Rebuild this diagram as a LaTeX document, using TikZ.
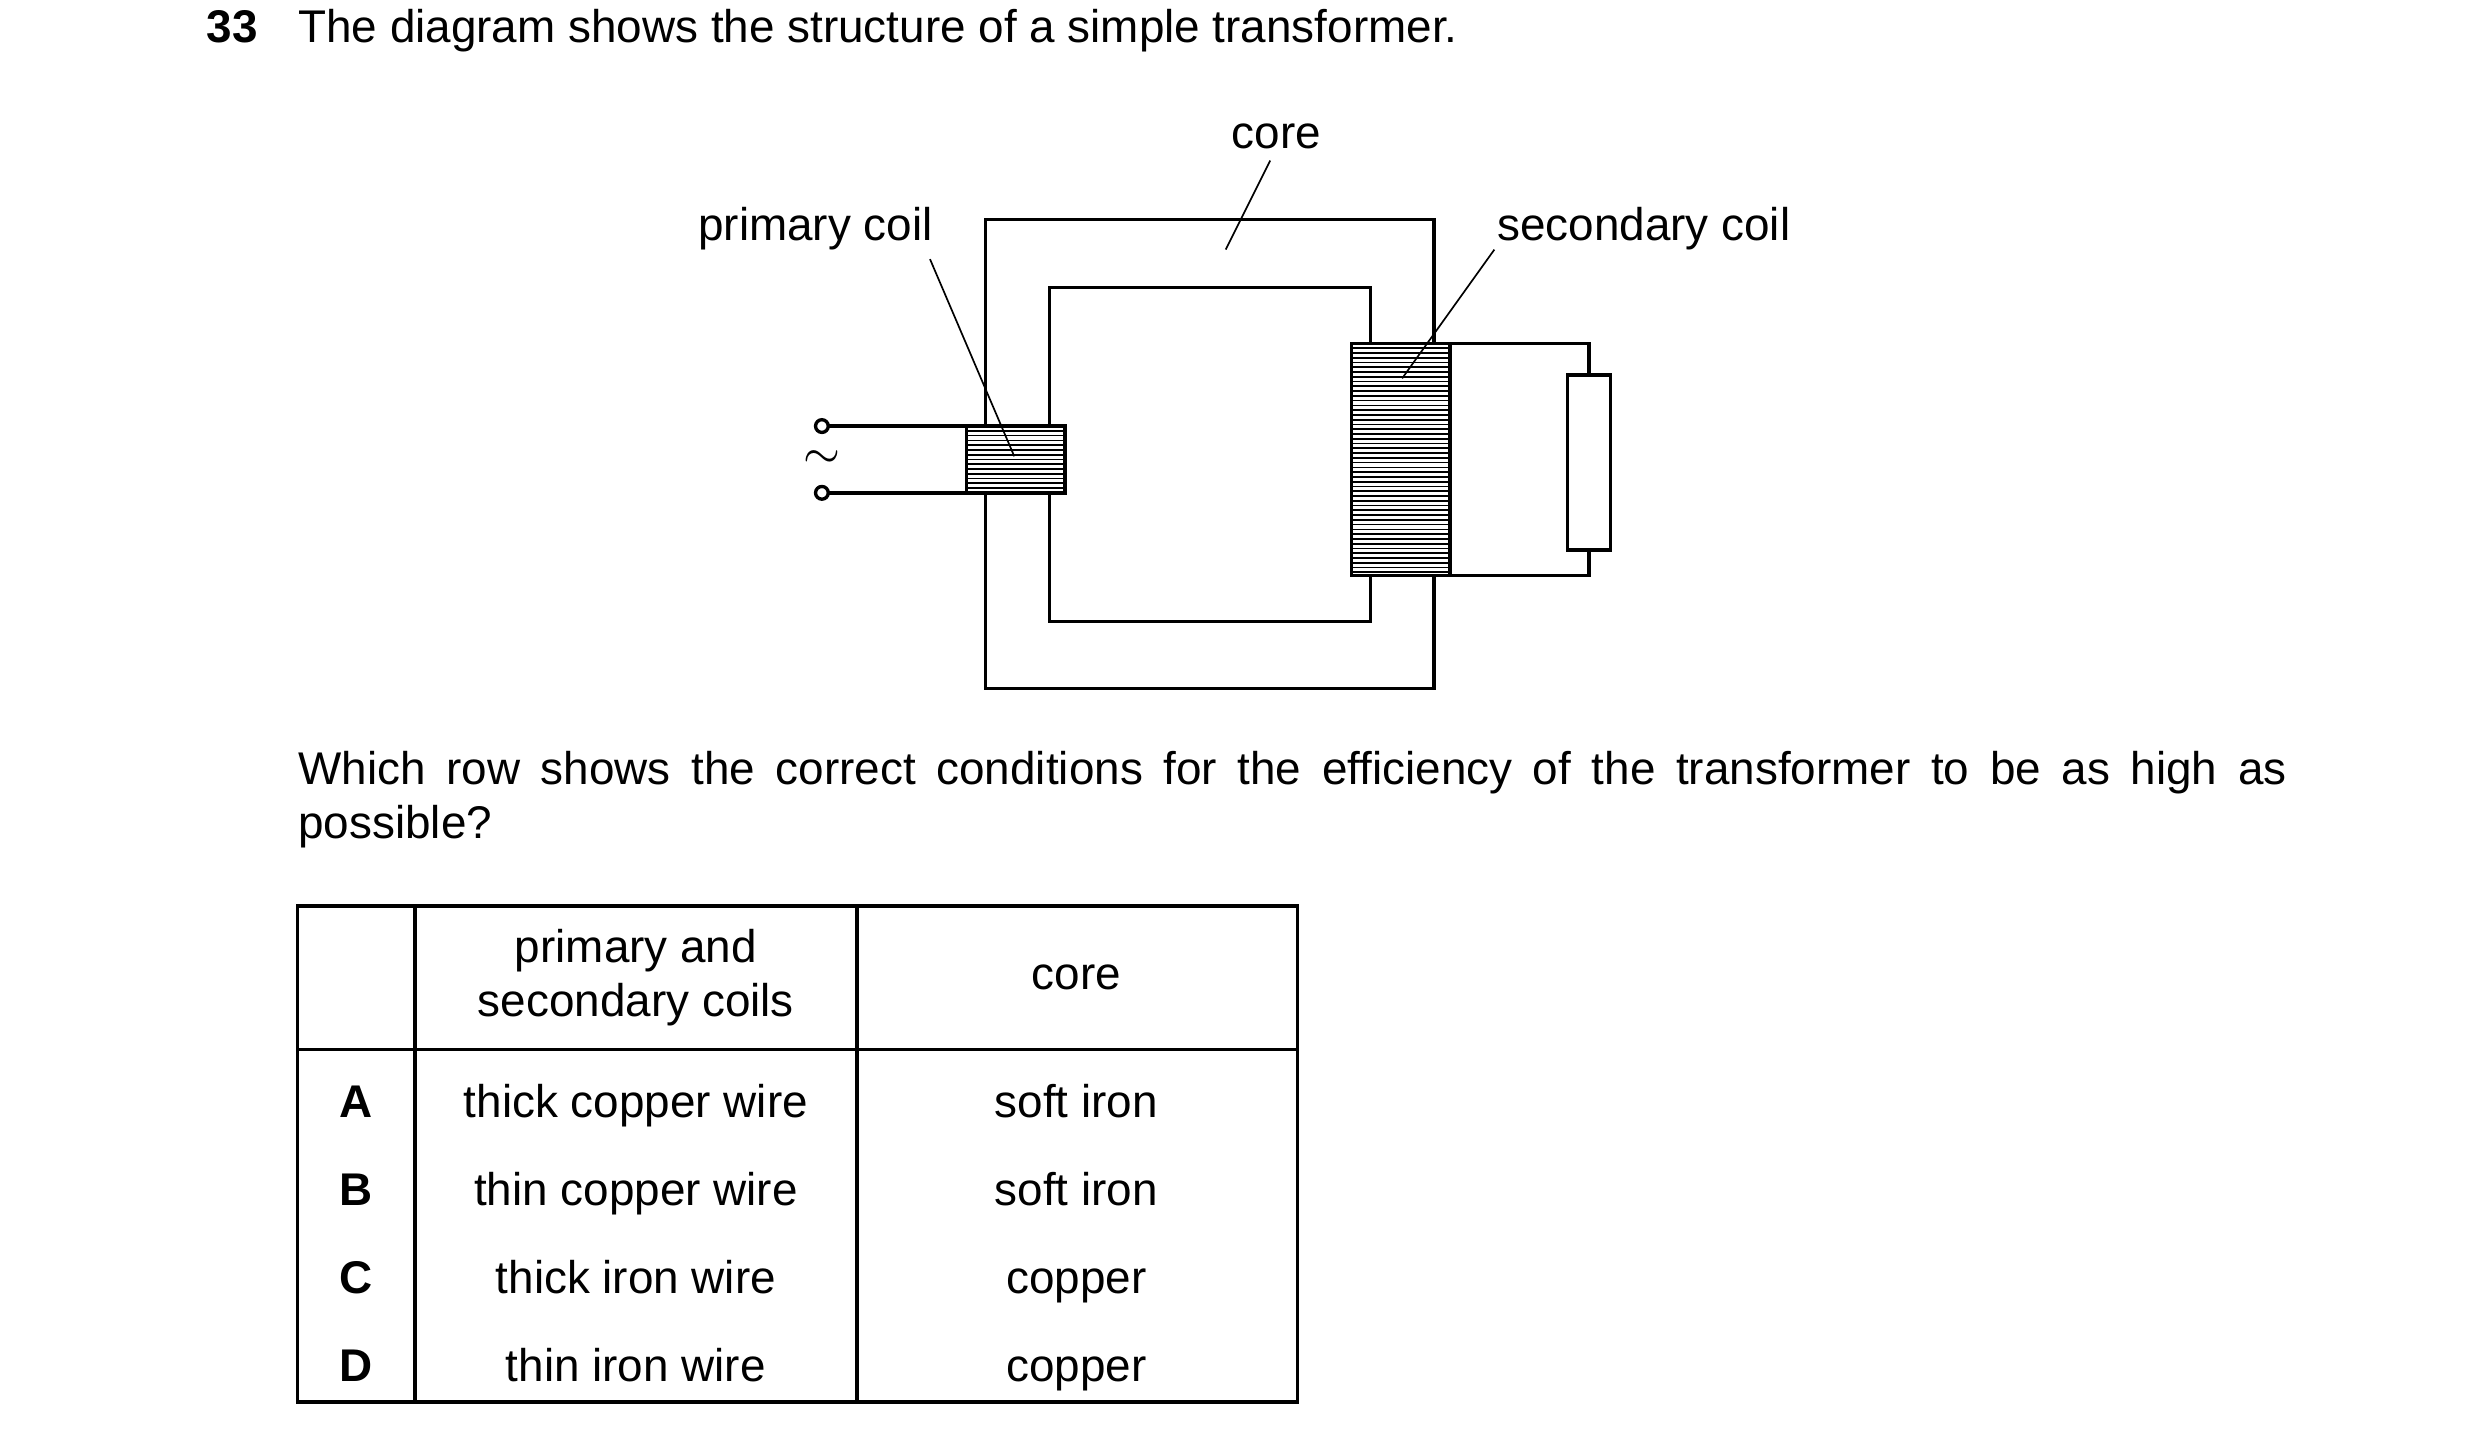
\documentclass[tikz,border=0pt]{standalone}
\usepackage{fontspec}
\setmainfont{Liberation Sans}
\usetikzlibrary{positioning}
\tikzset{
  lbl/.style={font=\fontsize{8.2}{9.8}\selectfont, inner sep=0pt},
  txt/.style={font=\fontsize{8.2}{9.8}\selectfont, inner sep=0pt, text height=6pt, text depth=1.7pt},
  wire/.style={line width=0.6pt},
  thin line/.style={line width=0.3pt}
}
\begin{document}
\begin{tikzpicture}[x=0.01cm,y=-0.01cm]
  \useasboundingbox (0,0) rectangle (1560,903);
  % question
  \node[txt,font=\fontsize{8.2}{9.8}\selectfont\bfseries] (num) at (146,19) {33};
  \node[txt,anchor=west] (title) at (187,19) {The diagram shows the structure of a simple transformer.};
  % core
  \draw[wire] (620,138) rectangle (902,433);
  \draw[wire] (660,181) rectangle (862,391);
  % primary coil
  \draw[wire,fill=white] (608,268) rectangle (670,310);
  \foreach \y in {271,274,...,308} \draw[thin line] (608,\y) -- (670,\y);
  \coordinate (p1) at (517,268);
  \coordinate (p2) at (517,310);
  \draw[wire] (p1) ++(4,0) -- (608,268);
  \draw[wire] (p2) ++(4,0) -- (608,310);
  \draw[wire] (p1) circle (4);
  \draw[wire] (p2) circle (4);
  \node[lbl] (ac) at (517,289) {$\sim$};
  % secondary coil
  \draw[wire,fill=white] (850,216) rectangle (912,362);
  \foreach \y in {219,222,...,360} \draw[thin line] (850,\y) -- (912,\y);
  \node[draw,wire,minimum width=0.27cm,minimum height=1.1cm,inner sep=0pt] (res) at (999.5,291) {};
  \draw[wire] (912,216) -| (res.north);
  \draw[wire] (912,362) -| (res.south);
  % labels
  \node[lbl] (core) at (803,86) {core};
  \coordinate (c1) at (771,157);
  \draw[thin line] (799,101) -- (c1);
  \node[lbl] (prim) at (513,144) {primary coil};
  \coordinate (pc) at (638,287);
  \draw[thin line] (585,163) -- (pc);
  \node[lbl] (sec) at (1034,144) {secondary coil};
  \coordinate (sc) at (882,238);
  \draw[thin line] (940,157) -- (sc);
  % question text
  \node[anchor=north west,inner sep=0pt,text width=12.5cm,align=justify,font=\fontsize{8.2}{9.6}\selectfont] (q) at (187,472)
    {Which row shows the correct conditions for the efficiency of the transformer to be as high as\linebreak possible?};
  % table
  \draw[wire] (187,570) rectangle (816,882);
  \draw[wire] (187,660) -- (816,660);
  \draw[wire] (261,570) -- (261,882);
  \draw[wire] (539,570) -- (539,882);
  \node[lbl,align=center] (h1) at (400,615) {primary and\\secondary coils};
  \node[txt] (h2) at (677,615) {core};
  \foreach \l/\a/\b [count=\i] in {A/thick copper wire/soft iron,B/thin copper wire/soft iron,C/thick iron wire/copper,D/thin iron wire/copper}{
    \node[txt,font=\fontsize{8.2}{9.8}\selectfont\bfseries] (r\i) at (224,640+55.3*\i) {\l};
    \node[txt] (w\i) at (400,640+55.3*\i) {\a};
    \node[txt] (k\i) at (677,640+55.3*\i) {\b};
  }
\end{tikzpicture}
\end{document}
